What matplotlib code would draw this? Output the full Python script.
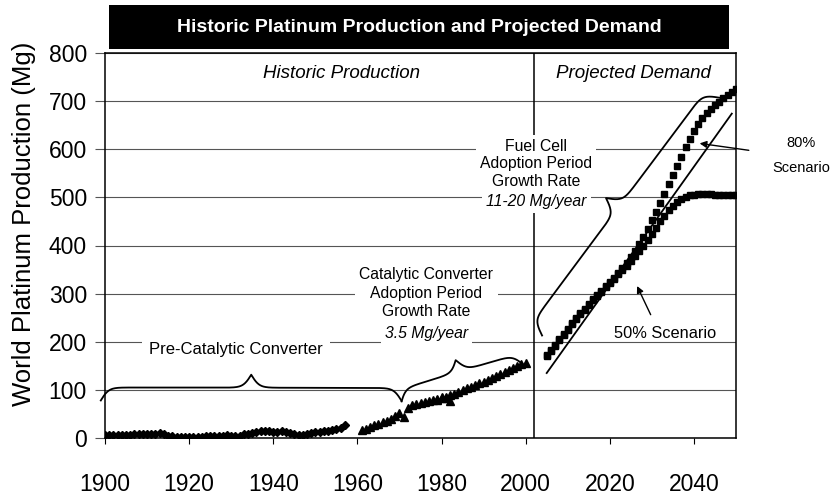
import numpy as np
import matplotlib.pyplot as plt
from matplotlib.patches import Rectangle

plt.rcParams["font.family"] = ["Liberation Sans", "DejaVu Sans"]

# historic production, pre-catalytic era (diamonds)
hist_years = list(range(1900, 1958))
hist_values = [7, 7, 7, 7, 7, 7, 7, 8, 8, 8, 8, 9, 9, 10, 9, 5, 4, 3, 3, 3,
               3, 2, 3, 3, 4, 4, 4, 5, 5, 6, 5, 4, 5, 8, 9, 11, 12, 14, 15, 14,
               12, 13, 14, 12, 10, 8, 7, 7, 9, 10, 12, 13, 15, 15, 17, 19, 21, 26]

# historic production, catalytic converter era (triangles)
cat_years = list(range(1961, 1983)) + list(range(1979, 2001))
cat_values = [16, 19, 23, 27, 30, 33, 36, 40, 45, 51, 43, 62, 68, 71, 73, 75,
              77, 79, 82, 85, 83, 76,
              80, 83, 86, 89, 92, 95, 99, 103, 107, 110, 114, 117, 120, 124,
              128, 132, 137, 141, 145, 149, 153, 156]

# projected demand (squares)
proj_years = list(range(2005, 2051))
demand_80 = [172, 183, 194, 205, 216, 227, 238, 249, 259, 269, 279, 288, 297,
             306, 315, 324, 333, 343, 353, 364, 376, 389, 403, 418, 435, 452,
             470, 489, 508, 527, 546, 565, 584, 604, 622, 638, 652, 664, 675,
             684, 692, 699, 706, 713, 720, 725]
demand_50 = [170, 181, 192, 203, 214, 225, 236, 247, 257, 267, 277, 286, 295,
             304, 313, 322, 331, 340, 349, 358, 368, 378, 389, 400, 412, 424,
             437, 450, 462, 473, 483, 491, 497, 501, 504, 505, 506, 506, 506,
             506, 505, 505, 505, 505, 505, 505]

# straight reference line under the projection
trend_years = [2005, 2049]
trend_values = [135, 674]

x_ticks = [1900, 1920, 1940, 1960, 1980, 2000, 2020, 2040]
y_ticks = [0, 100, 200, 300, 400, 500, 600, 700, 800]
divider_year = 2002


def draw_brace(ax, p0, p1, height, beta=0.25):
    # curly brace between two data points, bulging to the left of p0->p1
    tr = ax.transData
    a = tr.transform(p0)
    b = tr.transform(p1)
    d = b - a
    length = np.hypot(d[0], d[1])
    u = d / length
    n = np.array([-u[1], u[0]])
    half = length / 2
    s = np.linspace(0, half, 200)
    y = 1 / (1 + np.exp(-beta * s)) + 1 / (1 + np.exp(-beta * (s - half))) - 0.5
    s_full = np.concatenate([s, length - s[::-1][1:]])
    y_full = np.concatenate([y, y[::-1][1:]])
    pts = a + np.outer(s_full, u) + np.outer(y_full * height, n)
    data = tr.inverted().transform(pts)
    ax.plot(data[:, 0], data[:, 1], color="black", lw=1.3, clip_on=False)


fig = plt.figure(figsize=(8.36, 4.99), dpi=100)
ax = fig.add_axes([105 / 836, 1 - 438 / 499, 631 / 836, 385 / 499])

ax.set_xlim(1900, 2050)
ax.set_ylim(0, 800)

ax.set_yticks(y_ticks)
ax.set_xticks(x_ticks)
ax.tick_params(axis="y", direction="out", length=7, width=0.8, color="#555555",
               pad=6, labelsize=16.5)
ax.tick_params(axis="x", direction="out", length=4, width=0.8,
               pad=21, labelsize=16.5)
ax.grid(axis="y", color="#555555", lw=0.8)
ax.set_axisbelow(True)
for sp in ax.spines.values():
    sp.set_linewidth(1.1)
    sp.set_color("black")

ax.axvline(divider_year, color="black", lw=1.1)

ax.plot(hist_years, hist_values, ls="none", marker="D", ms=3.8, color="black")
ax.plot(cat_years, cat_values, ls="none", marker="^", ms=5.5, color="black")
ax.plot(proj_years, demand_50, ls="none", marker="s", ms=4.6, color="black")
ax.plot(proj_years, demand_80, ls="none", marker="s", ms=4.6, color="black")
ax.plot(trend_years, trend_values, color="black", lw=1.3)

# braces
draw_brace(ax, (1899, 78), (1970.5, 77), 26)
draw_brace(ax, (1970.5, 76), (1999.5, 152), 24)
draw_brace(ax, (2003.9, 213), (2046.1, 707), 31)

# labels
ax.text(1956.2, 758, "Historic Production", ha="center", va="center",
        style="italic", fontsize=13.5)
ax.text(2025.7, 758, "Projected Demand", ha="center", va="center",
        style="italic", fontsize=13.5)
ax.text(1931.1, 184, "Pre-Catalytic Converter", ha="center", va="center",
        fontsize=12, bbox=dict(fc="white", ec="none", pad=5))

white = dict(fc="white", ec="none", pad=3)
ax.text(1976.4, 301, "Catalytic Converter\nAdoption Period\nGrowth Rate",
        ha="center", va="center", fontsize=11.3, linespacing=1.3, bbox=white)
ax.text(1976.4, 218, "3.5 Mg/year", ha="center", va="center",
        style="italic", fontsize=11.3, bbox=white)

ax.text(2002.5, 570, "Fuel Cell\nAdoption Period\nGrowth Rate",
        ha="center", va="center", fontsize=11.3, linespacing=1.2, bbox=white)
ax.text(2002.5, 492, "11-20 Mg/year", ha="center", va="center",
        style="italic", fontsize=11.3, bbox=white)

ax.annotate("", xy=(2040.7, 613), xytext=(2053.7, 597),
            arrowprops=dict(arrowstyle="-|>", color="black", lw=1,
                            mutation_scale=10), annotation_clip=False)
ax.text(2065.4, 612, "80%", ha="center", va="center", fontsize=10.5, clip_on=False)
ax.text(2065.4, 560, "Scenario", ha="center", va="center", fontsize=10.5,
        clip_on=False)

ax.annotate("", xy=(2026.2, 321), xytext=(2030.0, 251),
            arrowprops=dict(arrowstyle="-|>", color="black", lw=1,
                            mutation_scale=10))
ax.text(2033.1, 218, "50% Scenario", ha="center", va="center", fontsize=11.8)

ax.text(-0.128, 0.557, "World Platinum Production (Mg)", rotation=90,
        ha="center", va="center", fontsize=18.5, transform=ax.transAxes)

# title bar
fig.patches.append(Rectangle((109 / 836, 1 - 49 / 499), 620 / 836, 44 / 499,
                             transform=fig.transFigure, fc="black", ec="none"))
fig.text(419 / 836, 1 - 27 / 499,
         "Historic Platinum Production and Projected Demand",
         ha="center", va="center", color="white", fontsize=14,
         fontweight="bold")

fig.savefig("out.png", dpi=100)
